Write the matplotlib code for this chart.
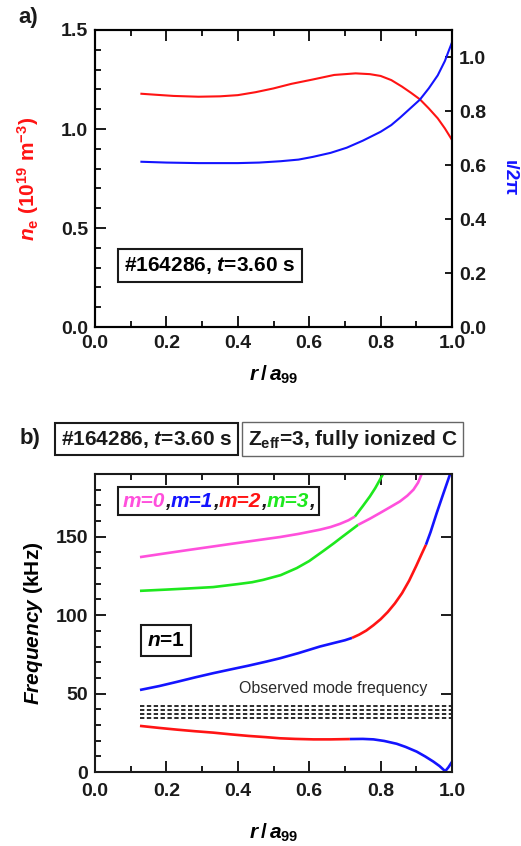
import matplotlib
matplotlib.use('Agg')
import matplotlib.pyplot as plt
from matplotlib.ticker import MultipleLocator, FormatStrFormatter
from matplotlib.offsetbox import TextArea, HPacker, AnchoredOffsetbox

plt.rcParams['font.family'] = ['Liberation Sans', 'DejaVu Sans']
plt.rcParams['font.weight'] = 'bold'
plt.rcParams['axes.labelweight'] = 'bold'
plt.rcParams['mathtext.fontset'] = 'custom'
plt.rcParams['mathtext.rm'] = 'Liberation Sans:bold'
plt.rcParams['mathtext.it'] = 'Liberation Sans:bold:italic'
plt.rcParams['mathtext.bf'] = 'Liberation Sans:bold'
plt.rcParams['mathtext.default'] = 'regular'

RED = '#ff1414'
BLUE = '#1414ff'
GREEN = '#1ee81e'
PINK = '#ff50dc'
INK = '#1a1a1a'

# ---- panel a: density and iota profiles
r_ne = [0.13, 0.17, 0.22, 0.29, 0.35, 0.40, 0.45, 0.50, 0.55, 0.61, 0.67, 0.73, 0.77,
        0.80, 0.83, 0.86, 0.885, 0.91, 0.935, 0.96, 0.98, 1.0]
ne = [1.178, 1.173, 1.167, 1.163, 1.165, 1.171, 1.186, 1.205, 1.228, 1.250, 1.273, 1.281,
      1.277, 1.268, 1.247, 1.214, 1.183, 1.150, 1.104, 1.054, 1.003, 0.945]
r_iota = [0.13, 0.20, 0.29, 0.40, 0.46, 0.52, 0.57, 0.61, 0.66, 0.705, 0.75, 0.80, 0.83,
          0.855, 0.88, 0.91, 0.935, 0.96, 0.98, 0.99, 1.0]
iota = [0.612, 0.609, 0.607, 0.607, 0.609, 0.614, 0.620, 0.630, 0.645, 0.664, 0.690, 0.723,
        0.748, 0.776, 0.806, 0.842, 0.884, 0.932, 0.985, 1.020, 1.054]

# ---- panel b: n=1 continuum branches, split where the dominant m changes
top_m0_r = [0.126, 0.20, 0.26, 0.331, 0.38, 0.43, 0.48, 0.518, 0.57, 0.63, 0.66, 0.686, 0.71, 0.728]
top_m0_f = [137.0, 139.5, 141.5, 143.8, 145.4, 147.0, 148.6, 149.8, 151.8, 154.5, 156.2, 158.2, 160.5, 162.9]
top_m3_r = [0.728, 0.75, 0.77, 0.785, 0.798, 0.808]
top_m3_f = [162.9, 169.5, 175.7, 181.0, 186.3, 190.5]

low_m3_r = [0.126, 0.20, 0.26, 0.331, 0.40, 0.44, 0.471, 0.52, 0.565, 0.60, 0.64, 0.67, 0.69, 0.715, 0.737]
low_m3_f = [115.5, 116.3, 117.0, 117.9, 119.8, 121.0, 122.5, 125.5, 130.0, 134.5, 141.0, 146.0, 149.5, 153.8, 157.6]
low_m0_r = [0.737, 0.77, 0.798, 0.83, 0.854, 0.875, 0.892, 0.905, 0.915]
low_m0_f = [157.6, 161.5, 165.1, 169.3, 172.5, 176.2, 180.0, 184.5, 190.0]

mid_m1_r = [0.126, 0.18, 0.23, 0.28, 0.331, 0.38, 0.43, 0.48, 0.518, 0.57, 0.63, 0.67, 0.70, 0.72]
mid_m1_f = [52.3, 54.8, 57.5, 60.3, 63.0, 65.4, 67.8, 70.4, 72.5, 75.8, 80.0, 82.3, 84.0, 85.5]
mid_m2_r = [0.72, 0.74, 0.76, 0.78, 0.80, 0.82, 0.84, 0.86, 0.88, 0.90, 0.915, 0.927]
mid_m2_f = [85.5, 87.6, 90.2, 93.6, 97.4, 102.0, 107.5, 114.0, 122.0, 131.5, 139.0, 144.9]
mid_m1b_r = [0.927, 0.94, 0.957, 0.975, 0.994, 1.0]
mid_m1b_f = [144.9, 153.0, 165.0, 177.0, 189.5, 193.0]

bot_m2_r = [0.126, 0.18, 0.23, 0.28, 0.331, 0.38, 0.43, 0.48, 0.518, 0.56, 0.612, 0.66, 0.714]
bot_m2_f = [29.4, 28.1, 27.0, 26.0, 25.1, 24.0, 23.0, 22.2, 21.5, 21.1, 20.8, 20.8, 21.0]
bot_m1_r = [0.714, 0.75, 0.78, 0.81, 0.845, 0.87, 0.901, 0.925, 0.948, 0.965, 0.981, 0.99, 1.0]
bot_m1_f = [21.0, 21.1, 20.8, 19.8, 18.0, 16.0, 13.0, 9.9, 6.6, 3.8, 0.5, 3.0, 6.5]

obs_r = [0.126, 1.0]
obs_f = [42.3, 39.6, 37.0, 34.7]

legend_parts = ['m=0', ',', 'm=1', ',', 'm=2', ',', 'm=3', ',']
legend_colors = [PINK, INK, BLUE, INK, RED, INK, GREEN, INK]

W, H = 521, 846
fig = plt.figure(figsize=(W / 100, H / 100), dpi=100)
xlab = r'$\mathit{r}\,/\,\mathit{a}_{99}$'


def style_axis(ax):
    for s in ax.spines.values():
        s.set_linewidth(1.5)
        s.set_color(INK)
    ax.tick_params(which='both', direction='in', top=True, width=1.4,
                   labelsize=14, colors=INK)
    ax.tick_params(which='major', length=8)
    ax.tick_params(which='minor', length=4.5)
    ax.tick_params(axis='x', pad=6)
    ax.tick_params(axis='y', pad=5)


# panel a
ax1 = fig.add_axes([95 / W, 1 - 327 / H, 357 / W, 297 / H])
ax1.plot(r_ne, ne, color=RED, lw=1.5)
ax1.set_xlim(0, 1)
ax1.set_ylim(0, 1.5)
ax1.xaxis.set_major_locator(MultipleLocator(0.2))
ax1.xaxis.set_minor_locator(MultipleLocator(0.1))
ax1.yaxis.set_major_locator(MultipleLocator(0.5))
ax1.yaxis.set_minor_locator(MultipleLocator(0.1))
ax1.xaxis.set_major_formatter(FormatStrFormatter('%.1f'))
ax1.yaxis.set_major_formatter(FormatStrFormatter('%.1f'))
style_axis(ax1)
ax1.tick_params(right=False)
ax1.set_xlabel(xlab, fontsize=15)
ax1.xaxis.set_label_coords(0.5, -0.125)
ax1.set_ylabel(r'$\mathit{n}_\mathrm{e}$ (10$^{19}$ m$^{-3}$)', fontsize=15, color=RED)
ax1.yaxis.set_label_coords(-0.15, 0.5)
ax1.text(0.322, 0.207, r'#164286, $\mathit{t}$=3.60 s', transform=ax1.transAxes,
         ha='center', va='center', fontsize=15,
         bbox=dict(boxstyle='square,pad=0.3', fc='white', ec=INK, lw=1.5))

ax1r = ax1.twinx()
ax1r.plot(r_iota, iota, color=BLUE, lw=1.5)
ax1r.set_ylim(0, 1.1)
ax1r.yaxis.set_major_locator(MultipleLocator(0.2))
ax1r.yaxis.set_major_formatter(FormatStrFormatter('%.1f'))
ax1r.tick_params(axis='y', which='major', direction='in', length=5, width=1.4,
                 labelsize=14, colors=INK, pad=5)
for s in ax1r.spines.values():
    s.set_linewidth(1.5)
fig.text(509 / W, 1 - 178 / H, 'ι/2π', rotation=270, ha='center', va='center',
         fontsize=14, color=BLUE)

fig.text(28 / W, 1 - 17 / H, 'a)', ha='center', va='center', fontsize=16, color=INK)

# panel b
ax2 = fig.add_axes([95 / W, 1 - 772 / H, 357 / W, 298 / H])
segments = [
    (top_m0_r, top_m0_f, PINK), (top_m3_r, top_m3_f, GREEN),
    (low_m3_r, low_m3_f, GREEN), (low_m0_r, low_m0_f, PINK),
    (mid_m1_r, mid_m1_f, BLUE), (mid_m2_r, mid_m2_f, RED), (mid_m1b_r, mid_m1b_f, BLUE),
    (bot_m2_r, bot_m2_f, RED), (bot_m1_r, bot_m1_f, BLUE),
]
for rr, ff, c in segments:
    ax2.plot(rr, ff, color=c, lw=1.9, solid_capstyle='butt', solid_joinstyle='round')
for f in obs_f:
    ax2.plot(obs_r, [f, f], color=INK, lw=1.3, ls=(0, (2.4, 1.4)))
ax2.set_xlim(0, 1)
ax2.set_ylim(0, 190)
ax2.xaxis.set_major_locator(MultipleLocator(0.2))
ax2.xaxis.set_minor_locator(MultipleLocator(0.1))
ax2.yaxis.set_major_locator(MultipleLocator(50))
ax2.yaxis.set_minor_locator(MultipleLocator(10))
ax2.xaxis.set_major_formatter(FormatStrFormatter('%.1f'))
style_axis(ax2)
ax2.tick_params(right=True)
ax2.tick_params(axis='x', pad=8)
ax2.set_xlabel(xlab, fontsize=15)
ax2.xaxis.set_label_coords(0.5, -0.168)
ax2.set_ylabel(r'$\mathit{Frequency}$ (kHz)', fontsize=15)
ax2.yaxis.set_label_coords(-0.14, 0.5)
ax2.text(0.403, 53, 'Observed mode frequency', fontsize=11.5, fontweight='normal',
         color='#2a2a2a', va='center', ha='left')
ax2.text(0.199, 0.441, r'$\mathit{n}$=1', transform=ax2.transAxes,
         ha='center', va='center', fontsize=15,
         bbox=dict(boxstyle='square,pad=0.3', fc='white', ec=INK, lw=1.5))

boxes = [TextArea(s, textprops=dict(color=c, fontsize=15, fontweight='bold',
                                      fontstyle='italic'))
         for s, c in zip(legend_parts, legend_colors)]
pack = HPacker(children=boxes, align='baseline', pad=0, sep=0)
leg = AnchoredOffsetbox(loc='center', child=pack, pad=0.3, borderpad=0, frameon=True,
                        bbox_to_anchor=(0.347, 0.909), bbox_transform=ax2.transAxes)
leg.patch.set_linewidth(1.5)
leg.patch.set_edgecolor(INK)
ax2.add_artist(leg)

fig.text(30 / W, 1 - 438 / H, 'b)', ha='center', va='center', fontsize=16, color=INK)
fig.text(146.7 / W, 1 - 439 / H, r'#164286, $\mathit{t}$=3.60 s', ha='center', va='center',
         fontsize=15, color=INK,
         bbox=dict(boxstyle='square,pad=0.28', fc='white', ec=INK, lw=1.5))
fig.text(352.5 / W, 1 - 439 / H, r'Z$_\mathrm{eff}$=3, fully ionized C', ha='center', va='center',
         fontsize=15, color=INK,
         bbox=dict(boxstyle='square,pad=0.28', fc='white', ec='#666666', lw=1.0))

fig.savefig('out.png', dpi=100)
